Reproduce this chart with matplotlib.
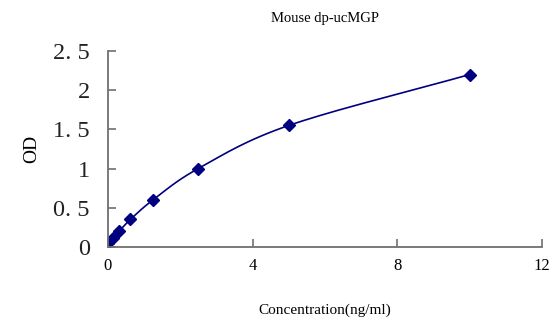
import numpy as np
import matplotlib
matplotlib.use("Agg")
import matplotlib.pyplot as plt

conc = [0, 0.156, 0.3125, 0.625, 1.25, 2.5, 5, 10]
od = [0.05, 0.12, 0.2, 0.35, 0.6, 1.0, 1.55, 2.2]
xticks = [0, 4, 8, 12]
yticks = [0, 0.5, 1, 1.5, 2, 2.5]
ytick_labels = ["0", "0. 5", "1", "1. 5", "2", "2. 5"]

def catmull(x, y, n=30):
    x = np.asarray(x, float); y = np.asarray(y, float)
    px = np.concatenate([[2*x[0]-x[1]], x, [2*x[-1]-x[-2]]])
    py = np.concatenate([[2*y[0]-y[1]], y, [2*y[-1]-y[-2]]])
    ox, oy = [], []
    t = np.linspace(0, 1, n)
    for i in range(1, len(px)-2):
        for P, O in ((px, ox), (py, oy)):
            p0, p1, p2, p3 = P[i-1], P[i], P[i+1], P[i+2]
            O.extend(0.5*((2*p1) + (-p0+p2)*t + (2*p0-5*p1+4*p2-p3)*t**2 + (-p0+3*p1-3*p2+p3)*t**3))
    return np.array(ox), np.array(oy)

fig = plt.figure(figsize=(5.53, 3.19), dpi=100)
ax = fig.add_axes([0.195, 0.226, 0.785, 0.614])
navy = "#000080"
sx, sy = catmull(conc, od)
ax.plot(sx, sy, color=navy, lw=1.2)
ax.plot(conc, od, linestyle="none", marker="D", ms=6, color=navy)
ax.set_xlim(0, 12)
ax.set_ylim(0, 2.5)
ax.set_xticks(xticks)
ax.set_xticklabels([str(v) for v in xticks], fontsize=12, family="Liberation Serif")
ax.set_yticks(yticks)
ax.set_yticklabels(ytick_labels, fontsize=17.5, family="Liberation Serif", color="#222222")
for s in ("top", "right"):
    ax.spines[s].set_visible(False)
for s in ("left", "bottom"):
    ax.spines[s].set_color("#707070")
    ax.spines[s].set_linewidth(1.3)
ax.tick_params(axis="both", direction="in", length=6, color="#707070", width=1.2)
ax.tick_params(axis="y", pad=13)
ax.tick_params(axis="x", pad=8)
ax.set_title("Mouse dp-ucMGP", fontsize=10.5, family="Liberation Serif", pad=21)
ax.set_xlabel("Concentration(ng/ml)", fontsize=11, family="Liberation Serif", labelpad=21)
ax.set_ylabel("OD", fontsize=14, family="Liberation Serif", labelpad=9)
for sp in ax.spines.values():
    sp.set_clip_on(False)
fig.savefig("out.png", dpi=100)
